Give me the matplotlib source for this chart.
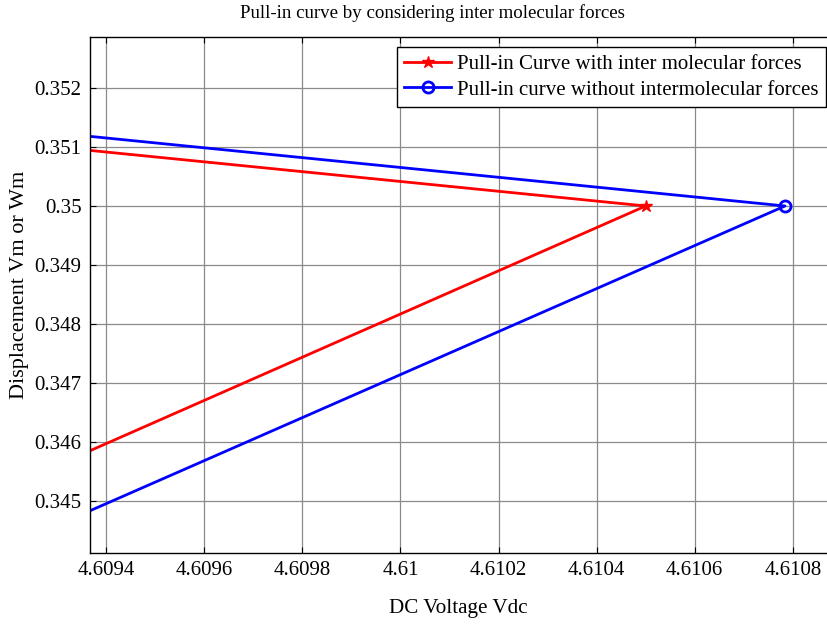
import matplotlib
matplotlib.use("Agg")
import matplotlib.pyplot as plt

# Pull-in curves: voltage (Vdc) vs. displacement for both models
volt_with = [4.609367, 4.61050, 4.609367]
disp_with = [0.350942, 0.35000, 0.345852]

volt_without = [4.609367, 4.610784, 4.609367]
disp_without = [0.351180, 0.35000, 0.344835]

xticks = [4.6094, 4.6096, 4.6098, 4.6100, 4.6102, 4.6104, 4.6106, 4.6108]
xtick_labels = ["4.6094", "4.6096", "4.6098", "4.61", "4.6102", "4.6104", "4.6106", "4.6108"]
yticks = [0.345, 0.346, 0.347, 0.348, 0.349, 0.350, 0.351, 0.352]
ytick_labels = ["0.345", "0.346", "0.347", "0.348", "0.349", "0.35", "0.351", "0.352"]

plt.rcParams["font.family"] = ["Liberation Serif", "DejaVu Serif"]

W, H = 828, 625
fig = plt.figure(figsize=(W / 100, H / 100), dpi=100)
left, right, top, bottom = 90, 836, 37, 553
ax = fig.add_axes([left / W, 1 - bottom / H, (right - left) / W, (bottom - top) / H])

ax.plot(volt_with, disp_with, color="#ff0000", lw=2.0, marker="*", ms=9,
        markevery=[1], label="Pull-in Curve with inter molecular forces")
ax.plot(volt_without, disp_without, color="#0000ff", lw=2.0, marker="o", ms=8,
        mfc="none", mew=2.0, markevery=[1],
        label="Pull-in curve without intermolecular forces")

ax.set_xlim(4.609367, 4.610888)
ax.set_ylim(0.344119, 0.352864)
ax.set_xticks(xticks)
ax.set_xticklabels(xtick_labels)
ax.set_yticks(yticks)
ax.set_yticklabels(ytick_labels)

ax.grid(True, color="#8a8a8a", lw=0.9, ls="-")
ax.set_axisbelow(True)
ax.tick_params(direction="in", length=4, width=0.8, labelsize=15,
               top=True, right=True, pad=6)
for s in ax.spines.values():
    s.set_linewidth(1.0)
    s.set_color("black")

# Title and axis labels placed in figure pixel coordinates
fig.text(432 / W, 1 - 13 / H, "Pull-in curve by considering inter molecular forces",
         fontsize=13.6, ha="center", va="center")
fig.text(458 / W, 1 - 608 / H, "DC Voltage Vdc", fontsize=15.2, ha="center", va="center")
fig.text(20 / W, 1 - 285 / H, "Displacement Vm or Wm", fontsize=16, rotation=90,
         ha="center", va="center")

leg = ax.legend(loc="upper right", bbox_to_anchor=(826 / W, 1 - 47 / H),
                bbox_transform=fig.transFigure, fontsize=15, frameon=True,
                fancybox=False, edgecolor="black", framealpha=1,
                borderpad=0.35, labelspacing=0.3, handlelength=2.25,
                handletextpad=0.3, borderaxespad=0)
leg.get_frame().set_linewidth(1.0)

fig.savefig("out.png", dpi=100)
